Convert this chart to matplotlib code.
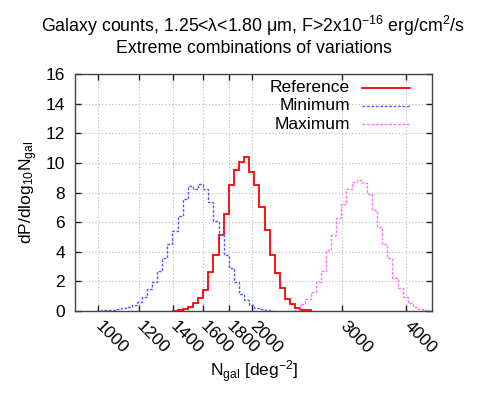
import numpy as np
import matplotlib
matplotlib.use('Agg')
import matplotlib.pyplot as plt
from matplotlib.ticker import FixedLocator, NullLocator, FixedFormatter

plt.rcParams['font.family'] = ['Liberation Sans', 'DejaVu Sans']
plt.rcParams['mathtext.fontset'] = 'custom'
plt.rcParams['mathtext.rm'] = 'Liberation Sans'
plt.rcParams['mathtext.it'] = 'Liberation Sans:italic'
plt.rcParams['mathtext.bf'] = 'Liberation Sans:bold'
FS = 12.5
plt.rcParams['font.size'] = FS

# ---- data (histograms in log10 bins of width 0.01, first bin centre given) ----
bin_width_log10 = 0.01

reference_first_center = 3.15
reference_values = [0.03, 0.09, 0.16, 0.29, 0.52, 0.88, 1.42, 2.63, 3.75, 5.15,
                    6.56, 8.54, 9.55, 10.06, 10.43, 9.4, 8.5, 7.0, 5.48, 3.75,
                    2.58, 1.55, 0.83, 0.45, 0.2, 0.09, 0.04]

minimum_first_center = 3.00
minimum_values = [0.02, 0.04, 0.05, 0.1, 0.12, 0.18, 0.27, 0.4, 0.63, 0.95,
                  1.49, 1.98, 2.7, 3.55, 4.55, 5.42, 6.42, 7.55, 8.45, 8.27,
                  8.57, 8.25, 7.39, 6.11, 5.23, 3.77, 2.87, 1.97, 1.18, 0.74,
                  0.4, 0.22, 0.11, 0.05, 0.02]

maximum_first_center = 3.38
maximum_values = [0.03, 0.1, 0.5, 0.83, 1.26, 1.96, 2.7, 4.1, 5.11, 6.28,
                  7.25, 8.22, 8.74, 8.83, 8.65, 7.88, 6.8, 5.68, 4.5, 3.6,
                  2.25, 1.58, 0.95, 0.54, 0.27, 0.14, 0.06, 0.03]

series_labels = ['Reference', 'Minimum', 'Maximum']

x_ticks = [1000, 1200, 1400, 1600, 1800, 2000, 3000, 4000]
x_tick_labels = ['1000', '1200', '1400', '1600', '1800', '2000', '3000', '4000']
y_ticks = [0, 2, 4, 6, 8, 10, 12, 14, 16]


def edges_for(first_center, values):
    n = len(values)
    return 10 ** (first_center - bin_width_log10 / 2 + bin_width_log10 * np.arange(n + 1))


fig = plt.figure(figsize=(4.8, 3.97), dpi=100)
ax = fig.add_axes([0.156, 0.2166, 0.745, 0.597])

styles = [
    dict(color='#ff0000', linewidth=1.3, linestyle='-'),
    dict(color='#5a5aff', linewidth=1.0, linestyle=(0, (2, 1.2))),
    dict(color='#ff70ff', linewidth=1.0, linestyle=(0, (2, 1.2))),
]
data = [(reference_first_center, reference_values),
        (minimum_first_center, minimum_values),
        (maximum_first_center, maximum_values)]

for (fc, vals), st in zip(data, styles):
    ax.stairs(vals, edges_for(fc, vals), baseline=0, fill=False, **st)

ax.set_xscale('log')
ax.set_xlim(900, 4500)
ax.set_ylim(0, 16)
ax.xaxis.set_major_locator(FixedLocator(x_ticks))
ax.xaxis.set_major_formatter(FixedFormatter(x_tick_labels))
ax.xaxis.set_minor_locator(NullLocator())
ax.set_yticks(y_ticks)

ax.grid(True, color='#b8b8b8', linestyle=(0, (1, 2)), linewidth=0.8)
ax.set_axisbelow(True)
for sp in ax.spines.values():
    sp.set_color('#444444')
    sp.set_linewidth(1.0)

ax.tick_params(axis='both', direction='in', top=True, right=True, length=4,
               width=1.0, color='#222222', labelsize=FS)
ax.tick_params(axis='y', pad=7)
ax.tick_params(axis='x', pad=9)
for lbl in ax.get_xticklabels():
    lbl.set_rotation(-45)
    lbl.set_rotation_mode('anchor')
    lbl.set_ha('left')
    lbl.set_va('center')

ax.set_xlabel('N$_{\\mathrm{gal}}$ [deg$^{-2}$]', fontsize=FS, labelpad=2)
ax.set_ylabel('dP/dlog$_{10}$N$_{\\mathrm{gal}}$', fontsize=FS, labelpad=4)

fig.text(0.527, 0.934,
         'Galaxy counts, 1.25<\u03bb<1.80 \u03bcm, F>2x10$^{-16}$ erg/cm$^{2}$/s',
         ha='center', va='center', fontsize=12.8)
fig.text(0.529, 0.879, 'Extreme combinations of variations',
         ha='center', va='center', fontsize=12.8)

# manual gnuplot-style key (text right-aligned, sample line to the right)
key_y = [0.942, 0.865, 0.788]
for lab, st, ky in zip(series_labels, styles, key_y):
    ax.text(0.770, ky, lab, transform=ax.transAxes, ha='right', va='center',
            fontsize=FS)
    ax.plot([0.804, 0.938], [ky, ky], transform=ax.transAxes, **st)

fig.savefig('out.png', dpi=100)
